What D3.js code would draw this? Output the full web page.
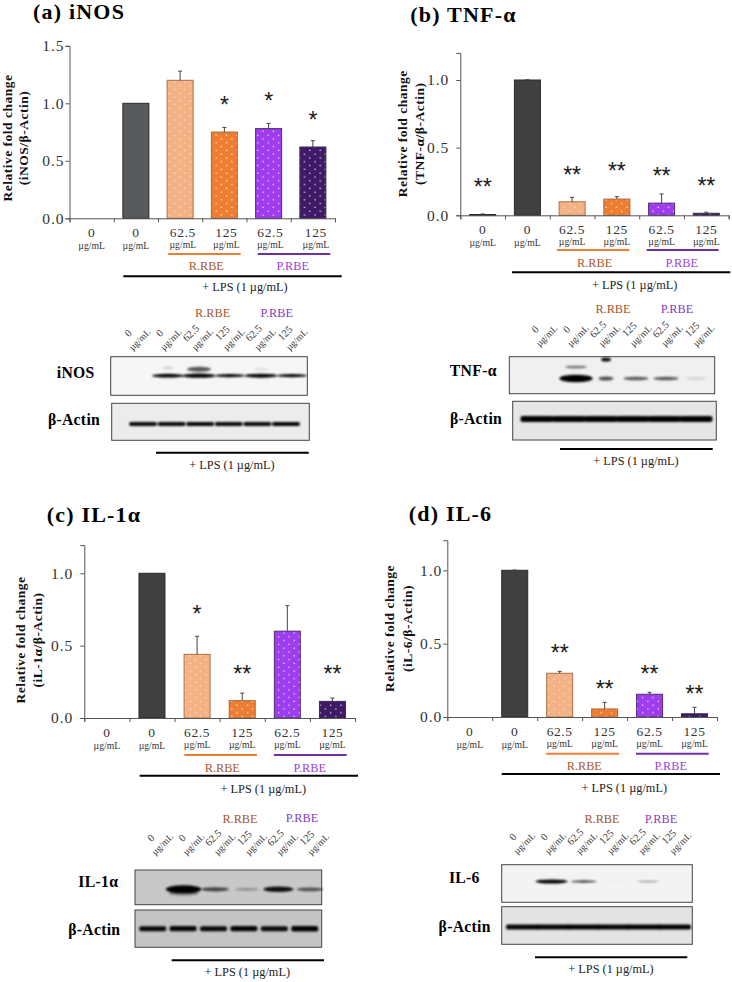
<!DOCTYPE html>
<html><head><meta charset="utf-8">
<script src="https://cdn.jsdelivr.net/npm/d3@7"></script>
<style>html,body{margin:0;background:#fff}svg{display:block}text{font-family:"Liberation Serif",serif}</style>
</head><body><div id="c"></div>
<script>
// ---------- data ----------
const doses = ["0","0","62.5","125","62.5","125"];
const unit = "µg/mL";
const panelIds = ["a","b","c","d"];
const titles = ["(a) iNOS","(b) TNF-α","(c) IL-1α","(d) IL-6"];
const yLine2 = ["(iNOS/β-Actin)","(TNF-α/β-Actin)","(iL-1α/β-Actin)","(iL-6/β-Actin)"];
const targets = ["iNOS","TNF-α","IL-1α","IL-6"];
const yTicksA = [0,0.5,1,1.5];
const yTicksRest = [0,0.5,1];
const valuesA = [0,1,1.2,0.75,0.78,0.62];
const errorsA = [0,0,0.08,0.04,0.045,0.055];
const valuesB = [0.005,1,0.1,0.12,0.09,0.015];
const errorsB = [0.005,0.002,0.033,0.018,0.068,0.008];
const valuesC = [0,1,0.44,0.12,0.6,0.115];
const errorsC = [0,0,0.125,0.052,0.176,0.023];
const valuesD = [0,1,0.298,0.055,0.155,0.022];
const errorsD = [0,0.002,0.013,0.045,0.013,0.044];
const starsA = ["","","","*","*","*"];
const starsB = ["**","","**","**","**","**"];
const starsC = ["","","*","**","","**"];
const starsD = ["","","**","**","**","**"];
const starLevelA = [0,0,0,1.014,1.046,0.883];
const starLevelB = [0.231,0,0.322,0.347,0.313,0.239];
const starLevelC = [0,0,0.742,0.325,0,0.325];
const starLevelD = [0,0,0.455,0.214,0.314,0.177];
const densityA = [0,0.85,1,0.7,0.9,0.7];
const densityB = [0,1,0.45,0.42,0.42,0.14];
const densityC = [0,1,0.45,0.22,0.62,0.4];
const densityD = [0,1,0.5,0.05,0.28,0.01];
const actinA = [0.85,0.85,0.9,0.85,0.85,0.9];
const actinB = [1,1,1,1,1,1];
const actinC = [0.8,0.85,0.8,0.9,0.75,0.95];
const actinD = [0.95,0.95,1,0.95,1,1];
const fills = ["#58595b","#404040","#f4b183","#ed7d31","#a03cf0","#3f1a66"];
const strokes = ["#1a1a1a","#2a2a2a","#a8704c","#a8683c","#4a2f70","#3a2a55"];

// ---------- layout ----------
const layout = [
 {x0:69.5,x1:335,y0:218.3,unitPx:115,yMax:1.5,ticks:yTicksA,pad:1,nudge:[0,0,2.7,2,1.7,3],
  title:[33,19],yT:[11.7,28.3,138],
  rl:[98.8,171.2,35.7],pl:[188.2,260.8],rt:[136.8,51.7],pt:223.2,ll:[53.8,272.2,58],lt:[175.5,72.4],
  blot:{box:[110.7,307.3,356.7,395.3],bg:"#f6f6f6",r:[137,292],y:375.7,w:28,h:4.2,lab:[75.7,377.7],wf:[1,1,1,1,1,1],
   abox:[111.7,309.3,403.3,440.3],abg:"#ececec",ar:[143,286],ay:424,aw:28,ah:4,alab:[74,425],
   lpsl:[156,308.7,452.7],lpst:[232,469],rt:[212.7,316.7],pt:[276.7,316.7],lx:[128,285],ly:333,
   extra:[[1,0.2,-8,10,2],[2,0.65,-6.5,24,5],[4,0.12,-6.5,14,2]]}},
 {x0:460.3,x1:728.7,y0:215.3,unitPx:135.3,yMax:1.2,ticks:yTicksRest,pad:7,nudge:[0,0,0,0,0,0],
  title:[410.3,21.7],yT:[406.7,424.3,133.8],
  rl:[96.7,169,34.7],pl:[186.4,258.4],rt:[134.4,51.4],pt:221.5,ll:[51.7,270,57],lt:[174.4,73.4],
  blot:{box:[509.3,714.7,356.7,393.7],bg:"#f0f0f0",r:[546,696],y:378.5,w:28,h:7.5,lab:[473.3,375.7],wf:[1,1,0.55,1,1,1],
   abox:[512.7,716.3,401.3,440],abg:"#e6e6e6",ar:[537,696],ay:419,aw:33,ah:6,alab:[476,424],
   lpsl:[560,712.7,449],lpst:[636,465],rt:[613,313.3],pt:[677,313.3],lx:[535,692],ly:329.3,
   extra:[[1,0.55,-11.5,22,2.5],[2,0.95,-19,10,4]]}},
 {x0:84.3,x1:355,y0:718,unitPx:144.7,yMax:1.195,ticks:yTicksRest,pad:7,nudge:[0,0,0,0,0,0],
  title:[46.7,522.3],yT:[25,41.7,640],
  rl:[100,172.7,37],pl:[189.7,262.4],rt:[138,53.7],pt:225.5,ll:[55.4,273.7,57.7],lt:[179,75],
  blot:{box:[135,321.7,870,904.7],bg:"#c8c8c8",r:[152,310],y:889.3,w:30,h:8,lab:[98.3,886.7],wf:[1,1,1,1,1,1],
   abox:[135,321.7,910,947.3],abg:"#c4c4c4",ar:[152.7,304.7],ay:928.7,aw:27,ah:5.5,alab:[94.3,935],
   lpsl:[171.7,324,960.3],lpst:[247.3,976],rt:[240,823.3],pt:[302,822.3],lx:[150.7,306.7],ly:837.7,
   extra:[[1,0.35,4,30,5]]}},
 {x0:447.3,x1:717,y0:717,unitPx:146.7,yMax:1.205,ticks:yTicksRest,pad:1,nudge:[0,0,0,0,0,0],
  title:[408.7,520.7],yT:[394.3,411.7,628.5],
  rl:[99,171.7,36.7],pl:[188.7,261.4],rt:[137,53],pt:223.5,ll:[54.4,272.7,57],lt:[177,74.7],
  blot:{box:[501.7,692.3,864.7,902.3],bg:"#f3f3f3",r:[519.5,680],y:881.5,w:27,h:4,lab:[464.3,883.3],wf:[1,1,1,1,1,1],
   abox:[501.7,692.3,906.7,944.3],abg:"#e4e4e4",ar:[523,674],ay:927,aw:34,ah:5,alab:[464.7,931.7],
   lpsl:[535,687.3,957.3],lpst:[611,973.3],rt:[602,823.3],pt:[661,823.3],lx:[512.7,668.7],ly:836.7,
   extra:[]}}
];
const allValues=[valuesA,valuesB,valuesC,valuesD], allErrors=[errorsA,errorsB,errorsC,errorsD],
 allStars=[starsA,starsB,starsC,starsD], allLevels=[starLevelA,starLevelB,starLevelC,starLevelD],
 allDens=[densityA,densityB,densityC,densityD], allActin=[actinA,actinB,actinC,actinD];

const svg=d3.select("#c").append("svg").attr("width",732).attr("height",982);
svg.append("rect").attr("width",732).attr("height",982).attr("fill","#fff");
const defs=svg.append("defs");
const blur=defs.append("filter").attr("id","blur").attr("x","-30%").attr("y","-80%").attr("width","160%").attr("height","260%");
blur.append("feGaussianBlur").attr("stdDeviation",0.9);
fills.forEach((f,i)=>{
  if(i<2) return;
  const p=defs.append("pattern").attr("id","dots"+i).attr("patternUnits","userSpaceOnUse").attr("width",10.4).attr("height",7.6);
  p.append("rect").attr("width",10.4).attr("height",7.6).attr("fill",f);
  [[2.4,1.6],[7.6,5.4]].forEach(d=>p.append("rect").attr("x",d[0]).attr("y",d[1]).attr("width",1.2).attr("height",1.2).attr("fill","#fff").attr("opacity",i==2?0.75:0.95));
});
const serif='"Liberation Serif",serif';
function T(g,x,y,s,o={}){
  return g.append("text").attr("x",x).attr("y",y).text(s)
   .attr("text-anchor",o.a||"middle").attr("font-size",o.s||10).attr("fill",o.f||"#222")
   .attr("font-weight",o.w||"normal").attr("letter-spacing",o.ls||0);
}
layout.forEach((L,pi)=>{
  const g=svg.append("g").attr("id","panel-"+panelIds[pi]);
  const vals=allValues[pi],errs=allErrors[pi];
  const x=d3.scaleLinear().domain([0,6]).range([L.x0,L.x1]);
  const y=d3.scaleLinear().domain([0,L.yMax]).range([L.y0,L.y0-L.yMax*L.unitPx]);
  const barW=26;
  T(g,L.title[0],L.title[1],titles[pi],{a:"start",s:22,w:"bold",f:"#000",ls:1.2});
  // bars
  g.selectAll("rect.bar").data(vals).join("rect").attr("class","bar")
    .attr("x",(d,i)=>x(i+.5)-barW/2).attr("width",barW)
    .attr("y",d=>y(d)).attr("height",d=>y(0)-y(d))
    .attr("fill",(d,i)=>i<2?(i==1&&pi==0?fills[0]:fills[1]):`url(#dots${i})`)
    .attr("stroke",(d,i)=>d===0?"none":strokes[i]).attr("stroke-width",1);
  // errors
  const eg=g.append("g").attr("stroke","#444").attr("stroke-width",1);
  vals.forEach((v,i)=>{ if(!errs[i]) return;
    eg.append("line").attr("x1",x(i+.5)).attr("x2",x(i+.5)).attr("y1",y(v)).attr("y2",y(v+errs[i]));
    eg.append("line").attr("x1",x(i+.5)-2).attr("x2",x(i+.5)+2).attr("y1",y(v+errs[i])).attr("y2",y(v+errs[i]));
  });
  // stars
  allStars[pi].forEach((s,i)=>{ if(!s) return;
    g.append("text").attr("x",x(i+.5)).attr("y",y(allLevels[pi][i])+11).text(s)
     .attr("text-anchor","middle").attr("font-size",23).attr("fill","#1a1a1a").style("font-family",'"Liberation Sans",sans-serif');
  });
  // axes
  const ay=g.append("g").attr("transform",`translate(${L.x0},0)`)
    .call(d3.axisLeft(y).tickValues(L.ticks).tickSize(4).tickPadding(L.pad).tickFormat(d3.format(".1f")));
  const ax=g.append("g").attr("transform",`translate(0,${L.y0})`)
    .call(d3.axisBottom(x).tickValues(d3.range(7)).tickSize(4).tickFormat(""));
  [ay,ax].forEach(a=>{a.selectAll("path").attr("stroke","#555").attr("stroke-width",1);a.selectAll("line").attr("stroke","#555");});
  ay.selectAll("text").attr("font-size",15.5).attr("letter-spacing",1).attr("fill","#333").style("font-family",serif);
  // y title
  [[0,"Relative fold change"],[1,yLine2[pi]]].forEach(([k,s])=>{
    g.append("text").attr("transform",`translate(${L.yT[k]},${L.yT[2]}) rotate(-90)`).text(s)
     .attr("text-anchor","middle").attr("font-size",13.5).attr("font-weight","bold").attr("letter-spacing",0.5).attr("fill","#111");
  });
  // x labels
  doses.forEach((d,i)=>{
    const cx=x(i+.5)+L.nudge[i];
    T(g,cx,L.y0+18.5,d,{s:13.5,ls:0.6,f:"#333"});
    T(g,cx,L.y0+(i<2?31:30),unit,{s:9.7,f:"#333"});
  });
  // group lines
  const line=(a,b,yy,c,w=2)=>g.append("line").attr("x1",a).attr("x2",b).attr("y1",yy).attr("y2",yy).attr("stroke",c).attr("stroke-width",w);
  line(L.x0+L.rl[0],L.x0+L.rl[1],L.y0+L.rl[2],"#ed7d31");
  line(L.x0+L.pl[0],L.x0+L.pl[1],L.y0+L.rl[2],"#7030a0");
  line(L.x0+L.ll[0],L.x0+L.ll[1],L.y0+L.ll[2],"#000");
  T(g,L.x0+L.rt[0],L.y0+L.rt[1],"R.RBE",{s:12.3,f:"#a8582c"});
  T(g,L.x0+L.pt,L.y0+L.rt[1],"P.RBE",{s:12.3,f:"#9a3fe0"});
  T(g,L.x0+L.lt[0],L.y0+L.lt[1],"+ LPS (1 µg/mL)",{s:12.3,f:"#222"});
  // blots
  const B=L.blot, lanes=d3.range(6);
  const lane=d3.scalePoint().domain(lanes).range(B.r);
  const alane=d3.scalePoint().domain(lanes).range(B.ar);
  const lab=d3.scalePoint().domain(lanes).range(B.lx);
  T(g,B.rt[0],B.rt[1],"R.RBE",{s:12.3,f:"#a0582c"});
  T(g,B.pt[0],B.pt[1],"P.RBE",{s:12.3,f:"#7f3fc0"});
  doses.forEach((d,i)=>{
    g.append("text").attr("transform",`translate(${lab(i)},${B.ly}) rotate(-45)`).text(d).attr("text-anchor","middle").attr("dy",".35em").attr("font-size",10.5).attr("fill","#333");
    g.append("text").attr("transform",`translate(${lab(i)+11.5},${B.ly+6.5}) rotate(-45)`).text(unit).attr("text-anchor","middle").attr("dy",".35em").attr("font-size",9.5).attr("fill","#333");
  });
  const box=(b,bg)=>g.append("rect").attr("x",b[0]).attr("y",b[2]).attr("width",b[1]-b[0]).attr("height",b[3]-b[2]).attr("fill",bg).attr("stroke","#444").attr("stroke-width",1);
  box(B.box,B.bg); box(B.abox,B.abg);
  const bands=g.append("g").attr("filter","url(#blur)");
  allDens[pi].forEach((d,i)=>{ if(d<=0) return;
    const w=B.w*Math.min(1.12,0.6+0.55*d)*B.wf[i], h=B.h*Math.pow(d,0.8);
    bands.append("ellipse").attr("cx",lane(i)).attr("cy",B.y).attr("rx",w/2+1).attr("ry",h/2)
      .attr("fill","#000").attr("opacity",Math.min(1,d*1.5));
  });
  B.extra.forEach(e=>{
    bands.append("ellipse").attr("cx",lane(e[0])).attr("cy",B.y+e[2]).attr("rx",e[3]/2).attr("ry",e[4]/2)
      .attr("fill","#000").attr("opacity",e[1]);
  });
  allActin[pi].forEach((d,i)=>{
    bands.append("rect").attr("x",alane(i)-B.aw/2).attr("width",B.aw).attr("y",B.ay-B.ah/2*(.6+.4*d)).attr("height",B.ah*(.6+.4*d)).attr("rx",2)
      .attr("fill","#000").attr("opacity",0.8+0.2*d);
  });
  T(g,B.lab[0],B.lab[1],targets[pi],{s:15.7,w:"bold",f:"#000",ls:0.3});
  T(g,B.alab[0],B.alab[1],"β-Actin",{s:15.7,w:"bold",f:"#000",ls:0.3});
  g.append("line").attr("x1",B.lpsl[0]).attr("x2",B.lpsl[1]).attr("y1",B.lpsl[2]).attr("y2",B.lpsl[2]).attr("stroke","#000").attr("stroke-width",2);
  T(g,B.lpst[0],B.lpst[1],"+ LPS (1 µg/mL)",{s:12.3,f:"#222"});
});
</script></body></html>
